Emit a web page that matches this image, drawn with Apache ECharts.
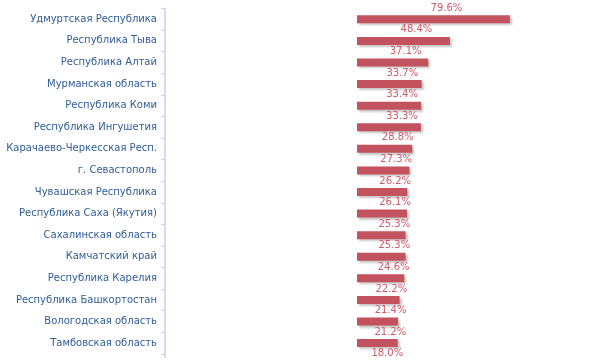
<!DOCTYPE html>
<html>
<head>
<meta charset="utf-8">
<script src="https://cdn.jsdelivr.net/npm/echarts@6/dist/echarts.min.js"></script>
<style>
  html, body { margin: 0; padding: 0; background: #fff; overflow: hidden; }
  /* холст выше видимой области: нижняя строка обрезана, как в оригинале */
  #wrap { width: 591px; height: 358px; overflow: hidden; }
  #chart { width: 591px; height: 380px; }
</style>
</head>
<body>
<div id="wrap"><div id="chart"></div></div>
<script>
// регионы (сверху вниз)
var regions = [
  'Удмуртская Республика',
  'Республика Тыва',
  'Республика Алтай',
  'Мурманская область',
  'Республика Коми',
  'Республика Ингушетия',
  'Карачаево-Черкесская Респ.',
  'г. Севастополь',
  'Чувашская Республика',
  'Республика Саха (Якутия)',
  'Сахалинская область',
  'Камчатский край',
  'Республика Карелия',
  'Республика Башкортостан',
  'Вологодская область',
  'Тамбовская область',
  ''
]
var values = [79.6, 48.4, 37.1, 33.7, 33.4, 33.3, 28.8, 27.3, 26.2, 26.1, 25.3, 25.3, 24.6, 22.2, 21.4, 21.2, 18.0]

var myChart = echarts.init(document.getElementById('chart'))
var option = {
  animation: false,
  grid: {
    left: 165,
    right: 42,
    top: 8.5,
    height: 367,
  },
  xAxis: {
    type: 'value',
    min: -100,
    max: 100,
    show: false,
  },
  yAxis: {
    type: 'category',
    data: regions,
    inverse: true,
    axisLine: {
      onZero: false,
      lineStyle: { color: '#d3dcea', width: 2 },
    },
    axisTick: {
      show: true,
      length: 4,
      lineStyle: { color: '#c8d3e2', width: 1 },
    },
    axisLabel: {
      margin: 8,
      color: '#2f5d98',
      fontFamily: 'DejaVu Sans',
      fontSize: 10,
    },
  },
  series: [
    {
      type: 'bar',
      data: values,
      barWidth: 8,
      itemStyle: {
        color: '#c3525f',
        shadowColor: 'rgba(0,0,0,0.22)',
        shadowOffsetX: 2,
        shadowOffsetY: 2,
        shadowBlur: 2,
      },
      label: {
        show: true,
        position: 'top',
        distance: 2,
        offset: [13, 0],
        color: '#cf5a68',
        fontFamily: 'DejaVu Sans',
        fontSize: 10,
        formatter: function (p) {
          return p.value.toFixed(1) + '%'
        },
      },
    },
  ],
}
myChart.setOption(option)
</script>
</body>
</html>
